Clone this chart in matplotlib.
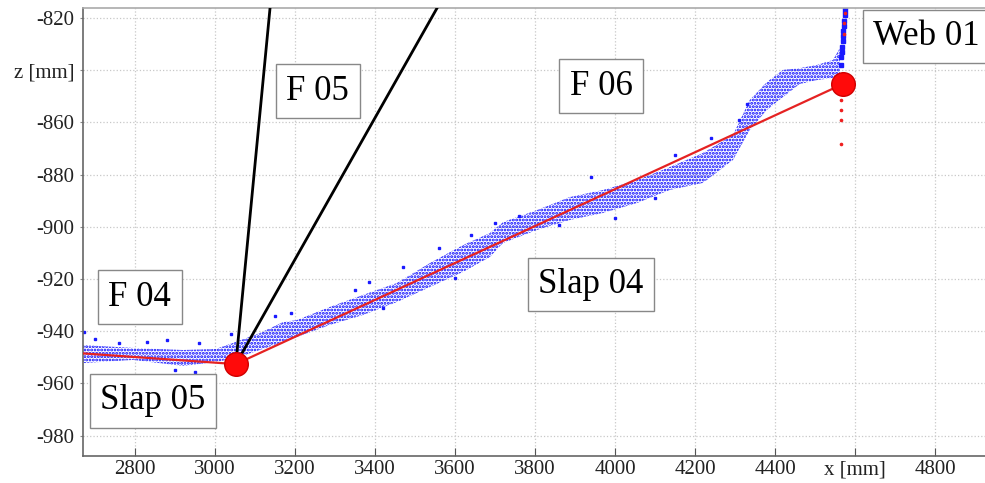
import numpy as np
import matplotlib
import matplotlib.pyplot as plt

matplotlib.use("Agg")
plt.rcParams['font.family'] = ['Liberation Serif', 'DejaVu Serif']
plt.rcParams['hatch.linewidth'] = 1.4

band_x = [2670, 2795, 2920, 3002, 3052, 3112, 3170, 3205, 3287, 3370, 3455, 3537,
          3620, 3687, 3720, 3805, 3887, 3970, 4055, 4137, 4220, 4295, 4337, 4380,
          4420, 4462, 4505, 4545, 4562]
band_hi = [-945.3, -946.4, -947.2, -946.8, -944.1, -940.7, -936.5, -935.7, -930.7,
           -926.1, -921.5, -913.9, -907.0, -902.4, -898.2, -893.6, -888.6, -885.9,
           -882.1, -877.1, -871.7, -864.8, -851.4, -844.5, -839.9, -839.2, -838.0,
           -836.1, -831.5]
band_lo = [-952.2, -951.0, -953.3, -951.8, -950.3, -947.2, -944.1, -942.2, -937.6,
           -933.8, -928.8, -923.1, -917.3, -911.6, -906.2, -901.2, -897.4, -894.7,
           -890.9, -885.9, -883.2, -874.4, -862.9, -855.2, -850.3, -845.3, -843.8,
           -843.0, -843.8]

# scattered single points outside the band
out_x = [2672, 2700, 2760, 2830, 2880, 2960, 3040, 3150, 3190, 3350, 3385, 3470,
         3560, 3640, 3700, 3760, 3940, 4150, 4240, 4310, 4330, 2900, 2950, 3420,
         3600, 3860, 4000, 4100]
out_z = [-940.3, -943.0, -944.5, -944.0, -943.5, -944.5, -941.0, -934.0, -933.0,
         -924.2, -921.0, -915.5, -908.0, -903.0, -898.5, -896.0, -881.0, -872.5,
         -866.0, -859.0, -853.0, -955.0, -955.5, -931.0, -919.5, -899.5, -896.5,
         -889.0]

# vertical spike at the web
spike_x = [4564, 4566, 4567, 4568, 4569, 4570, 4571, 4572, 4573, 4574, 4575, 4576]
spike_z = [-838, -835, -833, -831, -829, -827, -825, -823, -821, -819, -817.5, -816]
red_dot_x = [4565, 4565, 4565, 4565, 4572, 4573, 4575]
red_dot_z = [-851.4, -855.2, -859.2, -868.3, -826, -822, -818]

# fitted polyline and nodes
fit_x = [2670, 3052, 4570]
fit_z = [-948.5, -952.6, -845.3]
node_x = [3052, 4570]
node_z = [-952.6, -845.3]

# element edges
edge1_x = [3052, 3141.4]
edge1_z = [-952.6, -810]
edge2_x = [3052, 3578]
edge2_z = [-952.6, -810]

labels = ['F 05', 'F 06', 'Web 01', 'F 04', 'Slap 05', 'Slap 04']
label_x = [3257, 3965, 4779, 2812, 2845, 3940]
label_z = [-848.0, -846.1, -827.1, -926.9, -966.7, -922.1]

xticks = [2800, 3000, 3200, 3400, 3600, 3800, 4000, 4200, 4400, 4600, 4800]
xtick_labels = ['2800', '3000', '3200', '3400', '3600', '3800', '4000', '4200',
                '4400', 'x [mm]', '4800']
yticks = [-820, -840, -860, -880, -900, -920, -940, -960, -980]
ytick_labels = ['-820', 'z [mm]', '-860', '-880', '-900', '-920', '-940', '-960', '-980']

fig = plt.figure(figsize=[9.85, 4.83], dpi=100)
ax = fig.add_axes([0.0843, 0.0559, 0.9157, 0.9275])
ax.set(xlim=[2670, 4925], ylim=[-987.8, -816.2])

ax.grid(True, color='#c8c8c8', linestyle=':', linewidth=0.9)
ax.set_axisbelow(True)

ax.fill_between(band_x, band_lo, band_hi, facecolor='none', edgecolor='#0000ff',
                hatch='.....', linewidth=0, zorder=2)
ax.plot(out_x, out_z, 's', color='#1a1aff', markersize=2.0, zorder=2)
ax.plot(spike_x, spike_z, 's', color='#1a1aff', markersize=2.2, zorder=2)
ax.plot(red_dot_x, red_dot_z, 'o', color='#ee2020', markersize=1.6, zorder=4)

ax.plot(edge1_x, edge1_z, color='black', linewidth=2.0, zorder=3)
ax.plot(edge2_x, edge2_z, color='black', linewidth=2.0, zorder=3)
ax.plot(fit_x, fit_z, color='#e52222', linewidth=1.6, zorder=4)
ax.plot(node_x, node_z, 'o', color='#ff0a0a', markeredgecolor='#d00000',
        markersize=17, zorder=5)

for s, x, z in zip(labels, label_x, label_z):
    ax.text(x, z, s, fontsize=25, ha='center', va='center', zorder=6,
            bbox=dict(boxstyle='square,pad=0.3', facecolor='white',
                      edgecolor='#888888', linewidth=1.0))

ax.set_xticks(xticks)
ax.set_xticklabels(xtick_labels)
ax.set_yticks(yticks)
ax.set_yticklabels(ytick_labels)
ax.tick_params(axis='x', direction='in', length=6, labelsize=15, colors='#555555',
               labelcolor='#222222', pad=3)
ax.tick_params(axis='y', direction='out', length=2, labelsize=15, colors='#888888',
               labelcolor='#222222', pad=4)
ax.spines['left'].set_color('#666666')
ax.spines['bottom'].set_color('#666666')
ax.spines['top'].set_color('#aaaaaa')
ax.spines['right'].set_visible(False)
for sp in ax.spines.values():
    sp.set_linewidth(1.2)

fig.savefig('out.png', dpi=100)
